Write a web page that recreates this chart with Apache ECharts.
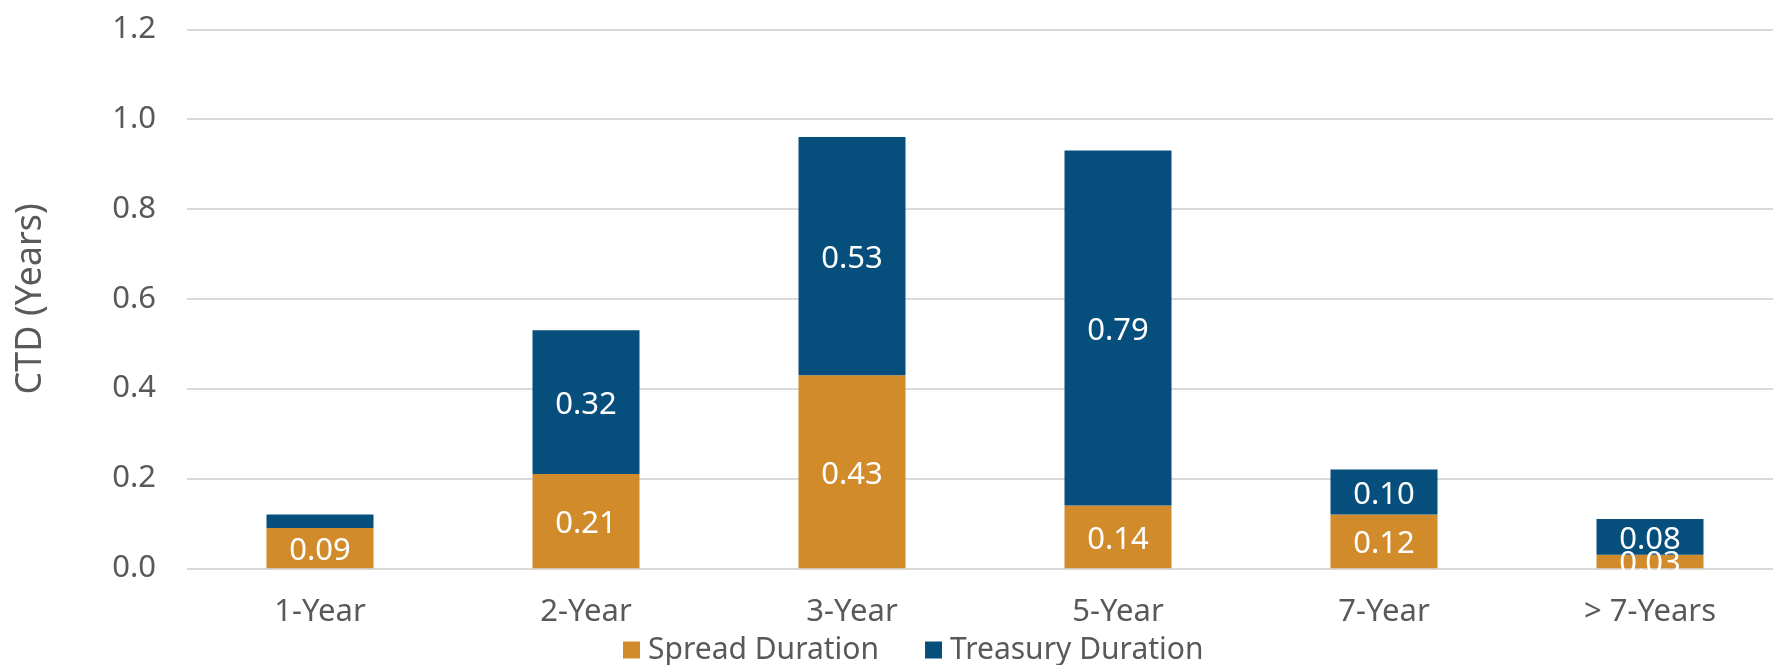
<!DOCTYPE html>
<html>
<head>
<meta charset="utf-8">
<script src="https://cdn.jsdelivr.net/npm/echarts@6/dist/echarts.min.js"></script>
<style>html,body{margin:0;padding:0;background:#fff;}#c{width:1773px;height:665px;}</style>
</head>
<body>
<div id="c"></div>
<script>
var categories = ['1-Year', '2-Year', '3-Year', '5-Year', '7-Year', '> 7-Years'];
var spreadDuration = [0.09, 0.21, 0.43, 0.14, 0.12, 0.03];
var treasuryDuration = [0.03, 0.32, 0.53, 0.79, 0.10, 0.08];
var treasuryLabelShown = [false, true, true, true, true, true];
var yTicks = { min: 0, max: 1.2, interval: 0.2 };

var FONT = '"Noto Sans", sans-serif';
var TEXT = '#595959';

var chart = echarts.init(document.getElementById('c'), null, { renderer: 'canvas' });
chart.setOption({
  animation: false,
  backgroundColor: '#ffffff',
  grid: { left: 187, top: 29.3, width: 1596, height: 539, containLabel: false, outerBoundsMode: 'none' },
  legend: {
    left: 618, top: 630,
    itemWidth: 17, itemHeight: 17, itemGap: 46,
    icon: 'rect',
    textStyle: { fontFamily: FONT, fontSize: 30, color: TEXT, padding: [0, 0, 0, 3] },
    data: ['Spread Duration', 'Treasury Duration']
  },
  xAxis: {
    type: 'category',
    data: categories,
    axisLine: { show: false },
    axisTick: { show: false },
    axisLabel: { fontFamily: FONT, fontSize: 31, color: TEXT, margin: 28 }
  },
  yAxis: {
    type: 'value',
    min: yTicks.min, max: yTicks.max, interval: yTicks.interval,
    name: 'CTD (Years)',
    nameLocation: 'middle',
    nameGap: 138,
    nameTextStyle: { fontFamily: FONT, fontSize: 36, color: TEXT },
    axisLine: { show: false },
    axisTick: { show: false },
    axisLabel: { fontFamily: FONT, fontSize: 31, color: TEXT, margin: 31,
      formatter: function (v) { return v.toFixed(1); } },
    splitLine: { lineStyle: { color: '#d9d9d9', width: 2 } }
  },
  series: [
    {
      name: 'Spread Duration', type: 'bar', stack: 'total', barWidth: 107,
      itemStyle: { color: '#D18B2B' },
      label: { show: true, position: 'inside', offset: [0, 3], color: '#ffffff', fontFamily: FONT, fontSize: 31,
        formatter: function (p) { return p.value.toFixed(2); } },
      data: spreadDuration
    },
    {
      name: 'Treasury Duration', type: 'bar', stack: 'total', barWidth: 107,
      itemStyle: { color: '#064F7C' },
      label: { show: true, position: 'inside', offset: [0, 3], color: '#ffffff', fontFamily: FONT, fontSize: 31,
        formatter: function (p) { return p.value.toFixed(2); } },
      data: treasuryDuration.map(function (v, i) {
        return { value: v, label: { show: treasuryLabelShown[i] } };
      })
    }
  ]
});
</script>
</body>
</html>
